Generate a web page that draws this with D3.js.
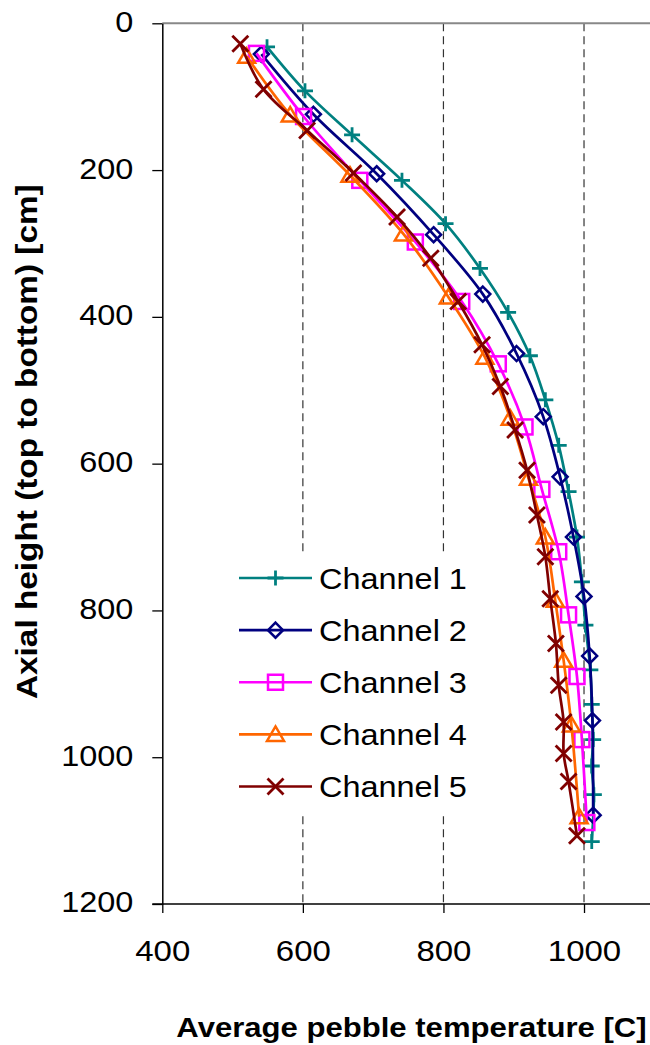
<!DOCTYPE html>
<html>
<head>
<meta charset="utf-8">
<script src="https://cdn.jsdelivr.net/npm/d3@7"></script>
<style>
  html, body { margin: 0; padding: 0; background: #fff; }
  svg { display: block; }
  text { font-family: "Liberation Sans", Arial, sans-serif; fill: #000; }
</style>
</head>
<body>
<svg id="chart" width="650" height="1045"></svg>
<script>
// ---- data ----
const channelNames = ["Channel 1", "Channel 2", "Channel 3", "Channel 4", "Channel 5"];

const ch1Height = [32, 92, 152, 214, 273, 334, 394, 453, 513, 575, 638, 700, 761, 820, 881, 928, 976, 1012, 1051, 1115];
const ch1Temp   = [549, 603, 670, 741, 803, 852, 892, 923, 945, 964, 978, 990, 997, 1002, 1009, 1011, 1013, 1011, 1014, 1011];

const ch2Height = [42, 124, 205, 288, 369, 450, 536, 618, 700, 781, 862, 950, 1079];
const ch2Temp   = [541, 615, 705, 786, 856, 904, 942, 966, 985, 1000, 1008, 1012, 1013];

const ch3Height = [41, 127, 214, 298, 379, 464, 550, 635, 720, 806, 890, 976, 1089];
const ch3Temp   = [534, 601, 681, 760, 826, 878, 916, 940, 964, 978, 990, 997, 1004];

const ch4Height = [45, 125, 207, 287, 373, 455, 538, 620, 700, 786, 868, 956, 1081];
const ch4Temp   = [520, 582, 667, 743, 807, 859, 895, 921, 945, 959, 971, 982, 993];

const ch5Height = [28, 90, 146, 204, 264, 320, 379, 438, 495, 554, 609, 670, 727, 784, 845, 902, 952, 995, 1033, 1107];
const ch5Temp   = [511, 544, 606, 672, 734, 782, 821, 855, 881, 902, 919, 933, 945, 952, 960, 964, 971, 971, 978, 990];

const xTickValues = [400, 600, 800, 1000];
const yTickValues = [0, 200, 400, 600, 800, 1000, 1200];
const gridValues = [600, 800, 1000];

(function () {
// ---- styles ----
const colors = ["#008080", "#000080", "#FF00FF", "#FF6600", "#800000"];
const markers = ["plus", "diamond", "square", "triangle", "cross"];
const SX = 1.1; // horizontal stretch of the text in the reference

const series = [
  {temp: ch1Temp, h: ch1Height},
  {temp: ch2Temp, h: ch2Height},
  {temp: ch3Temp, h: ch3Height},
  {temp: ch4Temp, h: ch4Height},
  {temp: ch5Temp, h: ch5Height}
].map((s, i) => ({name: channelNames[i], color: colors[i], marker: markers[i],
  pts: s.temp.map((t, j) => ({t, h: s.h[j]}))}));

const svg = d3.select("#chart");
const pL = 162.3, pR = 654.3, pT = 23.3, pB = 904;

const x = d3.scaleLinear().domain([400, 1100]).range([pL, pR]);
const y = d3.scaleLinear().domain([0, 1200]).range([pT, pB]);
const fmt = d3.format("d");

// gridlines
svg.append("g").selectAll("line").data(gridValues).join("line")
  .attr("x1", d => x(d)).attr("x2", d => x(d))
  .attr("y1", pT).attr("y2", pB)
  .attr("stroke", "#333").attr("stroke-width", 1.2)
  .attr("stroke-dasharray", "8,5");

// top border
svg.append("line").attr("x1", pL).attr("x2", 650).attr("y1", pT).attr("y2", pT)
  .attr("stroke", "#888").attr("stroke-width", 2);

// y axis
const yAxis = svg.append("g").attr("transform", `translate(${pL},0)`)
  .call(d3.axisLeft(y).tickValues(yTickValues).tickFormat(fmt).tickSize(10).tickSizeOuter(0).tickPadding(19));
yAxis.select(".domain").attr("stroke", "#000").attr("stroke-width", 1.5);
yAxis.selectAll(".tick line").attr("stroke", "#000").attr("stroke-width", 1.3);
yAxis.selectAll(".tick text")
  .attr("font-size", 29.5).attr("font-family", "Liberation Sans, Arial, sans-serif")
  .attr("x", -29 / SX).attr("dy", "0.27em")
  .attr("transform", `scale(${SX},1)`);

// x axis
const xAxis = svg.append("g").attr("transform", `translate(0,${pB})`)
  .call(d3.axisBottom(x).tickValues(xTickValues).tickFormat(fmt).tickSize(9).tickSizeOuter(0).tickPadding(27));
xAxis.select(".domain").remove();
xAxis.append("line").attr("x1", pL - 10).attr("x2", 650).attr("y1", 0).attr("y2", 0)
  .attr("stroke", "#000").attr("stroke-width", 1.5);
xAxis.selectAll(".tick line").attr("stroke", "#000").attr("stroke-width", 1.3);
xAxis.selectAll(".tick text")
  .attr("font-size", 30).attr("font-family", "Liberation Sans, Arial, sans-serif")
  .attr("transform", `scale(${SX},1)`);

// lines
const line = d3.line().x(d => x(d.t)).y(d => y(d.h)).curve(d3.curveCatmullRom.alpha(0.5));

function drawMarker(g, type, color) {
  const sw = 2.5;
  if (type === "plus") {
    g.append("path").attr("d", "M-8,0H8M0,-7.5V7.5").attr("stroke", color).attr("stroke-width", sw + 0.3).attr("fill", "none");
  } else if (type === "diamond") {
    g.append("path").attr("d", "M0,-7.5L7.5,0L0,7.5L-7.5,0Z").attr("stroke", color).attr("stroke-width", sw).attr("fill", "none");
  } else if (type === "square") {
    g.append("rect").attr("x", -7.5).attr("y", -7.5).attr("width", 15).attr("height", 15)
      .attr("stroke", color).attr("stroke-width", sw).attr("fill", "none");
  } else if (type === "triangle") {
    g.append("path").attr("d", "M0,-8L8.5,6.5L-8.5,6.5Z").attr("stroke", color).attr("stroke-width", sw).attr("fill", "none");
  } else if (type === "cross") {
    g.append("path").attr("d", "M-8,-8L8,8M8,-8L-8,8").attr("stroke", color).attr("stroke-width", sw + 0.3).attr("fill", "none");
  }
}

const plot = svg.append("g");
series.forEach(s => {
  const g = plot.append("g");
  g.append("path").datum(s.pts).attr("d", line)
    .attr("fill", "none").attr("stroke", s.color).attr("stroke-width", 2.7)
    .attr("stroke-linejoin", "round");
  s.pts.forEach(p => {
    const m = g.append("g").attr("transform", `translate(${x(p.t)},${y(p.h)})`);
    drawMarker(m, s.marker, s.color);
  });
});

// legend
const legend = svg.append("g");
legend.append("rect").attr("x", 228).attr("y", 552).attr("width", 245).attr("height", 260).attr("fill", "#fff");
const rowY = d3.scaleLinear().domain([0, 4]).range([578, 786.5]);
series.forEach((s, i) => {
  const ry = rowY(i);
  legend.append("line").attr("x1", 239).attr("x2", 312).attr("y1", ry).attr("y2", ry)
    .attr("stroke", s.color).attr("stroke-width", 2.7);
  const m = legend.append("g").attr("transform", `translate(275.5,${ry})`);
  drawMarker(m, s.marker, s.color);
  legend.append("text")
    .attr("transform", `translate(319,${ry}) scale(${SX},1)`)
    .attr("dy", "0.36em")
    .attr("font-size", 29.5)
    .text(s.name);
});

// axis titles
svg.append("text")
  .attr("transform", `translate(411.5,1036.5) scale(1.11,1)`)
  .attr("text-anchor", "middle")
  .attr("font-size", 28).attr("font-weight", "bold")
  .text("Average pebble temperature [C]");

svg.append("text")
  .attr("transform", `translate(37,699) rotate(-90) scale(1.13,1)`)
  .attr("text-anchor", "start")
  .attr("font-size", 29.5).attr("font-weight", "bold")
  .text("Axial height (top to bottom) [cm]");
})();
</script>
</body>
</html>
